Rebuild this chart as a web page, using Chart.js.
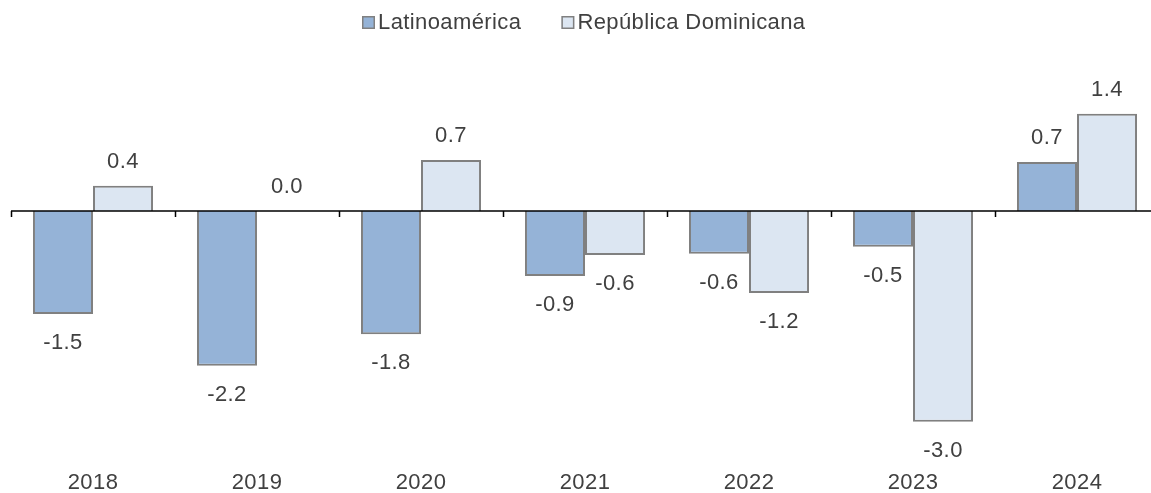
<!DOCTYPE html>
<html lang="es">
<head>
<meta charset="utf-8"/>
<title>Latinoamérica vs República Dominicana</title>
<script src="https://cdn.jsdelivr.net/npm/chart.js"></script>
<style>
    html, body { margin: 0; padding: 0; background: #fff; overflow: hidden; }
    canvas { display: block; }
</style>
</head>
<body>
<canvas id="myChart" width="1159" height="493"></canvas>
<script>
    // data
    const years = ['2018', '2019', '2020', '2021', '2022', '2023', '2024'];
    const latam = [-1.47, -2.21, -1.76, -0.93, -0.61, -0.51, 0.70];
    const repDom = [0.36, 0.0, 0.73, -0.63, -1.17, -3.01, 1.39];
    const seriesNames = ['Latinoamérica', 'República Dominicana'];

    const textColor = '#404040';
    const fontFamily = '"Liberation Sans", Arial, sans-serif';
    const fontSize = 22;

    // zero line, tick marks, value labels and legend
    const extras = {
        id: 'extras',
        beforeDraw(chart) {
            chart.ctx.letterSpacing = '0.4px';
        },
        afterDatasetsDraw(chart) {
            const ctx = chart.ctx;
            const y = chart.scales.y;
            const y0 = y.getPixelForValue(0);
            const area = chart.chartArea;

            ctx.save();
            ctx.strokeStyle = '#000';
            ctx.lineWidth = 1.5;
            ctx.beginPath();
            ctx.moveTo(area.left, y0);
            ctx.lineTo(area.right, y0);
            const step = (area.right - area.left) / years.length;
            for (let i = 0; i <= years.length; i++) {
                const tx = Math.round(area.left + i * step) + 0.5;
                ctx.moveTo(tx, y0);
                ctx.lineTo(tx, y0 + 6);
            }
            ctx.stroke();

            ctx.fillStyle = textColor;
            ctx.font = fontSize + 'px ' + fontFamily;
            ctx.textAlign = 'center';
            ctx.textBaseline = 'middle';
            chart.data.datasets.forEach(function (ds, di) {
                const meta = chart.getDatasetMeta(di);
                meta.data.forEach(function (bar, i) {
                    const v = ds.data[i];
                    const ly = v >= 0 ? bar.y - 24 : bar.y + 29;
                    ctx.fillText(v.toFixed(1), bar.x, ly);
                });
            });
            ctx.restore();
        },
        afterDraw(chart) {
            const ctx = chart.ctx;
            ctx.save();
            ctx.font = fontSize + 'px ' + fontFamily;
            ctx.textAlign = 'left';
            ctx.textBaseline = 'middle';
            let lx = 362;
            chart.data.datasets.forEach(function (ds) {
                ctx.fillStyle = ds.backgroundColor;
                ctx.fillRect(lx, 16, 13, 13);
                ctx.strokeStyle = ds.borderColor;
                ctx.lineWidth = 1.5;
                ctx.strokeRect(lx + 0.75, 16.75, 11.5, 11.5);
                ctx.fillStyle = textColor;
                ctx.fillText(ds.label, lx + 16, 23);
                lx += 16 + ctx.measureText(ds.label).width + 40;
            });
            ctx.restore();
        }
    };

    const ctx = document.getElementById('myChart');
    const mychart = new Chart(ctx, {
        type: 'bar',
        data: {
            labels: years,
            datasets: [
                {
                    label: seriesNames[0],
                    data: latam,
                    backgroundColor: '#95B3D7',
                    borderColor: '#808080',
                    borderWidth: 2
                },
                {
                    label: seriesNames[1],
                    data: repDom,
                    backgroundColor: '#DCE6F2',
                    borderColor: '#808080',
                    borderWidth: 2
                }
            ]
        },
        options: {
            responsive: false,
            animation: false,
            layout: {
                padding: { top: 60, left: 11, right: 0, bottom: 0 }
            },
            datasets: {
                bar: { categoryPercentage: 0.732, barPercentage: 1.0 }
            },
            plugins: {
                legend: { display: false },
                tooltip: { enabled: false }
            },
            scales: {
                x: {
                    grid: { display: false },
                    border: { display: false },
                    ticks: {
                        color: textColor,
                        font: { family: fontFamily, size: fontSize },
                        padding: 6,
                        autoSkip: false,
                        maxRotation: 0
                    },
                    afterFit: function (scale) { scale.height = 37; }
                },
                y: {
                    display: false,
                    min: -3.5,
                    max: 151 / 70
                }
            }
        },
        plugins: [extras]
    });
</script>
</body>
</html>
